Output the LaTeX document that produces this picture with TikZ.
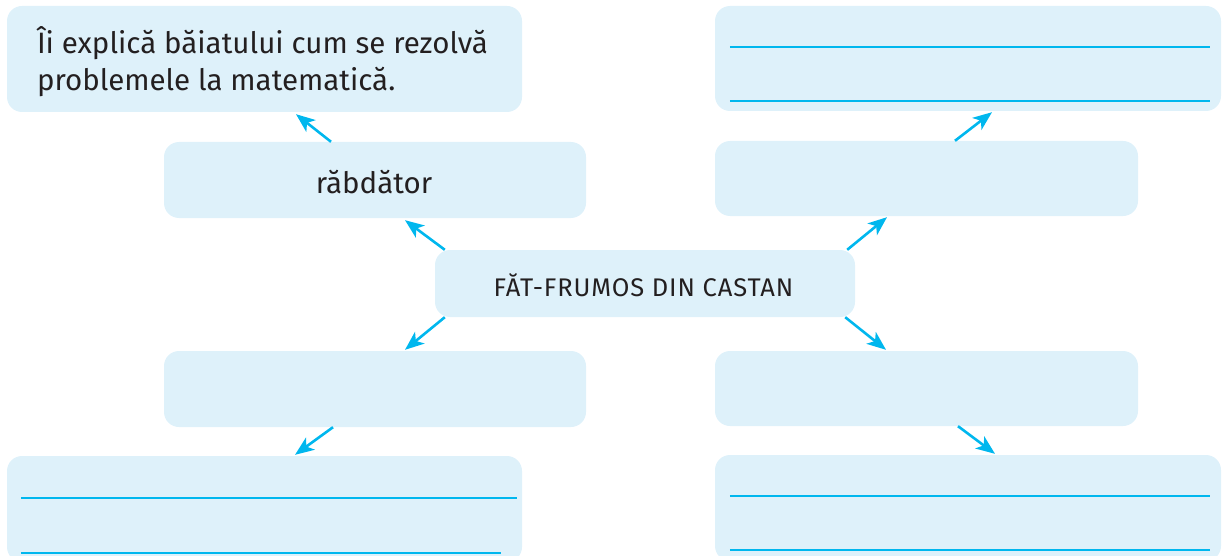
\documentclass[tikz,border=0pt]{standalone}
\usepackage{fontspec}
\setmainfont{Fira Sans}
\usetikzlibrary{arrows.meta,calc}
\definecolor{boxfill}{HTML}{DEF1FA}
\definecolor{cyanline}{HTML}{00B7EE}
\definecolor{ink}{HTML}{231F20}
\tikzset{
  box/.style={fill=boxfill, draw=none, rounded corners=15pt, inner sep=0pt, rectangle},
  conn/.style={draw=cyanline, line width=2.6pt, -{Stealth[length=19pt,width=15pt,inset=5pt]}},
  rule/.style={draw=cyanline, line width=2pt},
  lbl/.style={text=ink, inner sep=0pt, font=\fontsize{29.5pt}{36pt}\selectfont}
}
\begin{document}
\begin{tikzpicture}[x=1pt,y=-1pt]
\path[use as bounding box] (0,0) rectangle (1222,556);
\clip (0,0) rectangle (1222,556);
% boxes
\node[box, minimum width=515pt, minimum height=106pt] (TL) at (264.5,59) {};
\node[box, minimum width=422pt, minimum height=76pt] (R1) at (375,180) {};
\node[box, minimum width=420pt, minimum height=67pt] (C) at (645,283.5) {};
\node[box, minimum width=423pt, minimum height=75pt] (RM1) at (926.5,178.5) {};
\node[box, minimum width=506pt, minimum height=105pt] (TR) at (968,58.5) {};
\node[box, minimum width=422pt, minimum height=76pt] (LM2) at (375,389) {};
\node[box, minimum width=423pt, minimum height=75pt] (RM2) at (926.5,388.5) {};
\node[box, minimum width=515pt, minimum height=106pt] (BL) at (264.5,509) {};
\node[box, minimum width=506pt, minimum height=106pt] (BR) at (968,508) {};
% texts
\node[lbl, anchor=base west, align=left] (tTL) at ($(TL.north west)+(30,47.5)$) {Îi explică băiatului cum se rezolvă};
\node[lbl, anchor=base west, align=left] (tTL2) at ($(TL.north west)+(30,84.5)$) {problemele la matematică.};
\node[lbl, anchor=base] (tR1) at ($(R1.south)+(-1,-25)$) {răbdător};
\node[lbl, anchor=base, font=\fontsize{25.5pt}{30pt}\selectfont\addfontfeatures{LetterSpace=3.5}] (tC) at ($(C.south)+(-1.5,-20.5)$) {FĂT-FRUMOS DIN CASTAN};
% answer lines
\draw[rule] ($(TR.north west)+(15,41)$) -- ($(TR.north west)+(495,41)$);
\draw[rule] ($(TR.north west)+(15,95)$) -- ($(TR.north west)+(495,95)$);
\draw[rule] ($(BL.north west)+(14,42)$) -- ($(BL.north west)+(510,42)$);
\draw[rule] ($(BL.north west)+(14,97)$) -- ($(BL.north west)+(494,97)$);
\draw[rule] ($(BR.north west)+(15,41)$) -- ($(BR.north west)+(495,41)$);
\draw[rule] ($(BR.north west)+(15,95)$) -- ($(BR.north west)+(495,95)$);
% connectors
\draw[conn] ($(C.north west)+(10,0)$) -- ($(R1.south)+(30,2)$);
\draw[conn] ($(R1.north)+(-44,0)$) -- ($(TL.south)+(31.5,2)$);
\draw[conn] ($(C.north east)+(-8,0)$) -- ($(RM1.south)+(-39.5,1)$);
\draw[conn] ($(RM1.north)+(28.5,0)$) -- ($(TR.south)+(24,1)$);
\draw[conn] ($(C.south west)+(10,0)$) -- ($(LM2.north)+(30,-1)$);
\draw[conn] ($(LM2.south)+(-42,0)$) -- ($(BL.north)+(30.5,-1)$);
\draw[conn] ($(C.south east)+(-10,0)$) -- ($(RM2.north)+(-40.5,-1)$);
\draw[conn] ($(RM2.south)+(31.5,0)$) -- ($(BR.north)+(27,-1)$);
\end{tikzpicture}
\end{document}
